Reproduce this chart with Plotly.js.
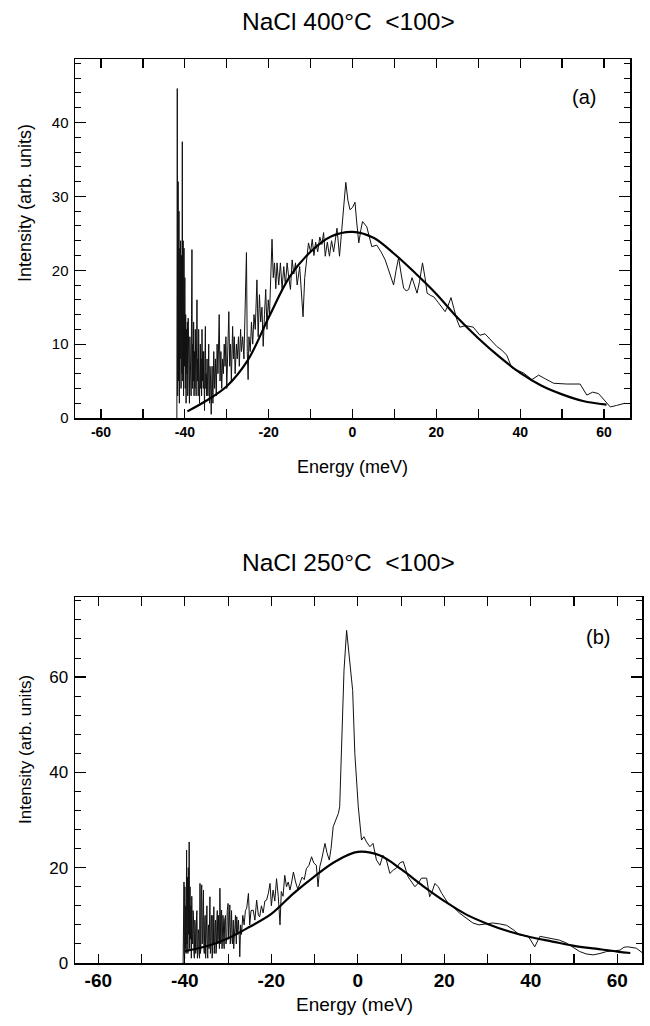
<!DOCTYPE html>
<html>
<head>
<meta charset="utf-8">
<script src="https://cdn.plot.ly/plotly-3.0.1.min.js"></script>
<style>html,body{margin:0;padding:0;background:#fff;}#chart{width:650px;height:1026px;}</style>
</head>
<body>
<div id="chart"></div>
<script>
// ---------- Panel (a): NaCl 400°C <100> : measured spectrum [energy meV, intensity] ----------
const aSpectrum = [
[-41.9,0],[-41.8,44.6],[-41.7,3],[-41.6,32],[-41.5,5],[-41.4,28],[-41.3,2],[-41.2,23],[-41.1,8],[-41.0,24],
[-40.9,4],[-40.8,22],[-40.7,6],[-40.6,37.4],[-40.5,5],[-40.4,24],[-40.3,3],[-40.2,23],[-40.1,7],[-40.0,19],
[-39.9,4],[-39.8,14],[-39.7,2],[-39.6,12],[-39.5,6],[-39.4,13],[-39.3,3],[-39.2,13.5],[-39.1,5],[-39.0,11],
[-38.9,2],[-38.8,11],[-38.7,6],[-38.6,9],[-38.5,3],[-38.4,14],[-38.3,22.8],[-38.2,4],[-38.1,10],[-38.0,5],
[-37.9,13],[-37.8,3],[-37.7,9],[-37.6,4],[-37.5,12],[-37.4,6],[-37.3,3],[-37.2,11],[-37.1,16],[-37.0,5],
[-36.9,8],[-36.8,3],[-36.7,12],[-36.6,6],[-36.5,2],[-36.4,9],[-36.3,10],[-36.2,4],[-36.1,8],[-36.0,3],
[-35.9,12],[-35.8,5],[-35.7,9],[-35.6,4],[-35.5,9],[-35.4,2],[-35.3,1],[-35.2,8],[-35.1,12.4],[-35.0,4],
[-34.9,6],[-34.8,3],[-34.7,8],[-34.6,5],[-34.5,3],[-34.4,9],[-34.3,10],[-34.2,4],[-34.1,2],[-34.0,7],
[-33.9,6],[-33.7,0.5],[-33.5,7],[-33.3,2],[-33.1,9],[-32.9,4],[-32.7,8],[-32.5,3],[-32.3,10],[-32.1,6],
[-31.8,14],[-31.6,5],[-31.4,9],[-31.2,4],[-31.0,8],[-30.8,6],[-30.6,10],[-30.4,7],[-30.2,11],[-30.0,4],
[-29.8,9],[-29.5,14.4],[-29.3,7],[-29.1,10],[-28.9,5],[-28.6,12.4],[-28.4,8],[-28.2,11],[-28.0,6],[-27.7,10],
[-27.5,8],[-27.2,11],[-27.0,7],[-26.7,12],[-26.5,9],[-26.2,11],[-25.9,8],[-25.6,15.8],[-25.3,22.4],[-25.1,9],
[-24.9,5.2],[-24.7,11],[-24.4,9],[-24.1,13],[-23.8,10],[-23.5,14],[-23.2,12],[-22.8,18.7],[-22.5,11],[-22.2,16.7],
[-21.9,13],[-21.6,15],[-21.3,9.7],[-21.0,14],[-20.7,17.4],[-20.4,12],[-20.1,16],[-19.8,14],[-19.5,20],[-19.2,24.2],
[-18.9,19],[-18.6,21],[-18.3,17.5],[-18.0,21],[-17.6,18],[-17.2,21],[-16.8,17.5],[-16.4,20.5],[-16.0,18],[-15.6,21],
[-15.2,19],[-14.8,17.4],[-14.4,21.4],[-14.0,19.5],[-13.6,21],[-13.2,18],[-12.6,20.5],[-12.2,17],[-11.8,13.7],[-11.4,19],
[-11.0,21],[-10.5,23.7],[-10.0,22.5],[-9.6,24.2],[-9.2,22],[-8.8,23.8],[-8.3,22.5],[-7.8,24.5],[-7.3,23.5],[-6.9,25.1],
[-6.5,21.9],[-6.0,23.8],[-5.5,21.9],[-5.0,24],[-4.5,22.5],[-3.7,25.7],[-3.1,21.9],[-2.4,27],[-1.6,31.9],[-1.1,29.5],
[-0.6,28.2],[0.0,28.5],[0.6,29.2],[1.0,26.5],[1.5,23.7],[2.0,25.5],[2.4,26.6],[3.4,25.9],[4.6,23.2],[5.8,23.4],
[6.8,22.5],[7.8,21.4],[8.6,20],[9.2,19],[9.8,18],[10.4,20],[11.0,21.7],[11.6,19.5],[12.2,17.6],[12.8,17.2],
[13.4,17.4],[14.2,19],[14.8,18],[15.4,16.9],[16.0,18.5],[16.7,21],[17.3,19],[17.8,16.9],[18.6,16.6],[19.4,16.4],
[20.5,15.6],[21.3,15],[22.1,14.4],[22.8,15.2],[23.5,16.3],[24.2,14.8],[24.9,13.3],[25.6,12.3],[27.0,12.5],[28.8,12.3],
[30.4,11.2],[31.6,11.4],[33.0,10.5],[34.4,9.7],[35.6,9.2],[36.8,8.5],[38.0,6.8],[39.4,6.4],[40.8,6.1],[42.8,5.2],
[44.4,5.8],[46.0,5.3],[48.0,4.7],[51.1,4.6],[54.3,4.6],[55.9,3.1],[57.3,3.5],[58.7,3.3],[60.7,2.0],[61.5,1.5],
[63.0,1.7],[65.0,2.0]
];
const aFitE = [-39.4,-35,-30,-25,-20,-15,-10,-5,0,5,10,15,20,25,30,35,40,45,50,55,60.6];
const aFitI = [0.9,2.3,4.3,7.8,13.6,19.1,22.5,24.6,25.2,24.4,22.2,19.6,16.8,13.6,10.8,8.3,6.1,4.4,3.2,2.3,1.8];

// ---------- Panel (b): NaCl 250°C <100> : measured spectrum [energy meV, intensity] ----------
const bSpectrum = [
[-40.4,0],[-40.3,16.7],[-40.25,1],[-40.2,17],[-40.15,2],[-40.1,14],[-40.05,1],[-40.0,16],[-39.9,3],[-39.8,12],
[-39.7,2],[-39.6,23.7],[-39.5,4],[-39.4,18],[-39.3,2],[-39.2,20],[-39.1,6],[-39.0,25.4],[-38.9,3],[-38.8,16],
[-38.7,5],[-38.6,12],[-38.5,1],[-38.4,14],[-38.3,6],[-38.2,4],[-38.1,11],[-38.0,10],[-37.9,2],[-37.8,1],
[-37.7,9],[-37.6,8],[-37.5,2],[-37.4,3],[-37.3,10],[-37.2,11],[-37.1,1],[-37.0,2],[-36.9,7],[-36.8,6],
[-36.7,2],[-36.6,1],[-36.5,16.7],[-36.4,2],[-36.3,3],[-36.2,14],[-36.1,16.4],[-36.0,4],[-35.9,5],[-35.8,12],
[-35.7,15.3],[-35.6,3],[-35.5,2],[-35.4,9],[-35.3,10],[-35.2,1],[-35.1,4],[-35.0,11],[-34.9,12],[-34.8,2],
[-34.7,1],[-34.6,7],[-34.5,8],[-34.4,3],[-34.3,12],[-34.2,13.9],[-34.1,2],[-34.0,3],[-33.9,9],[-33.8,10],
[-33.7,1],[-33.6,2],[-33.5,10],[-33.4,4],[-33.3,11.8],[-33.2,2],[-33.1,4],[-33.0,8],[-32.9,9],[-32.8,2],
[-32.7,3],[-32.6,9],[-32.5,11],[-32.4,4],[-32.3,5],[-32.2,10],[-32.1,8],[-32.0,3],[-31.9,15.7],[-31.8,5],
[-31.7,4],[-31.6,10],[-31.5,11.1],[-31.4,3],[-31.3,6],[-31.2,10],[-31.1,9],[-31.0,4],[-30.9,3],[-30.8,9],
[-30.6,10],[-30.5,4],[-30.3,5],[-30.2,11],[-30.0,12.5],[-29.9,5],[-29.8,7],[-29.6,12.2],[-29.5,4],[-29.4,6],
[-29.2,11],[-29.1,5],[-29.0,4],[-28.8,9],[-28.7,3],[-28.6,5],[-28.4,8],[-28.3,10],[-28.1,4],[-28.0,9.7],
[-27.8,6],[-27.6,9],[-27.4,5],[-27.3,1.3],[-27.1,8],[-26.9,6],[-26.6,10],[-26.3,8],[-26.0,11],[-25.7,11.5],
[-25.3,14.6],[-25.0,8],[-24.7,11],[-24.2,11.1],[-23.8,9],[-23.4,13.2],[-23.0,10],[-22.7,9.7],[-22.3,12],[-21.9,10.5],
[-21.5,13],[-21.1,13.2],[-20.7,14.6],[-20.3,16.7],[-20.0,12],[-19.6,15.3],[-19.2,13],[-18.8,17.7],[-18.4,14],[-18.0,8.0],
[-17.7,15],[-17.3,14],[-16.9,18.4],[-16.5,16],[-16.1,17],[-15.7,15.3],[-15.3,17],[-14.9,19.1],[-14.4,17],[-13.9,15.5],
[-13.4,16.7],[-12.9,18],[-12.4,17.5],[-11.9,19.8],[-11.3,20.5],[-10.7,22.3],[-10.2,21],[-9.6,20.5],[-9.2,16.0],[-8.8,20.2],
[-8.4,21.6],[-7.6,25.1],[-7.1,23],[-6.6,21.6],[-6.2,24],[-5.7,28.6],[-5.1,30],[-4.5,31.4],[-4.2,32.8],[-3.8,44],
[-3.5,55],[-3.2,61.4],[-2.6,69.8],[-2.0,64.2],[-1.2,57.2],[-0.7,44],[0.1,32.8],[0.85,25.8],[1.4,26.5],[2.0,25.4],
[2.8,24.4],[3.5,25.1],[4.3,21.6],[5.1,20.5],[5.8,22.6],[6.6,21.6],[7.4,18.8],[8.2,19.5],[8.9,19.9],[9.7,21],
[10.5,21.3],[11.6,18.1],[12.4,17],[13.2,16],[14.0,16.8],[14.7,17.8],[15.9,17.8],[16.6,13.9],[17.2,15],[17.8,16.7],
[18.6,16],[19.4,14.6],[20.9,12.5],[22.0,11.8],[23.6,10.4],[25.0,9.5],[26.6,8.4],[28.0,8.0],[29.7,8.2],[31.2,8.4],
[32.8,8.2],[34.4,7.9],[35.9,7.0],[37.4,5.9],[39.4,5.6],[40.9,3.4],[42.1,5.6],[43.6,5.3],[45.1,5.0],[46.6,4.8],
[48.2,4.2],[49.8,3.2],[51.3,2.4],[52.8,1.9],[54.4,1.7],[56.0,2.0],[57.5,2.4],[59.0,2.5],[60.6,2.7],[61.5,3.3],
[62.4,3.4],[64.4,3.1],[66.0,2.0]
];
const bFitE = [-40,-35,-30,-25,-20,-15,-10,-5,0,5,10,15,20,25,30,35,40,45,50,55,60,63];
const bFitI = [2.5,3.5,5.2,7.6,10.3,14.5,18.2,21.4,23.3,22.6,19.7,16.2,13.0,10.2,8.2,6.6,5.4,4.5,3.6,3.0,2.4,2.1];

// ---------- Text and tick labels ----------
const titleA = "NaCl 400°C  &lt;100&gt;";
const titleB = "NaCl 250°C  &lt;100&gt;";
const panelLabelA = "(a)";
const panelLabelB = "(b)";
const xTitle = "Energy (meV)";
const yTitle = "Intensity (arb. units)";
const xTickVals = [-60,-40,-20,0,20,40,60];
const xTickText = ["-60","-40","-20","0","20","40","60"];

const FONT = "Liberation Sans, Arial, Helvetica, sans-serif";
const noisyLine = {color:"#111", width:1};
const fitLine = {color:"#000", width:2.2};

const traces = [
  {x:aSpectrum.map(p=>p[0]), y:aSpectrum.map(p=>p[1]), type:"scatter", mode:"lines", line:noisyLine, xaxis:"x", yaxis:"y"},
  {x:aFitE, y:aFitI, type:"scatter", mode:"lines", line:Object.assign({shape:"spline"}, fitLine), xaxis:"x", yaxis:"y"},
  {x:bSpectrum.map(p=>p[0]), y:bSpectrum.map(p=>p[1]), type:"scatter", mode:"lines", line:noisyLine, xaxis:"x2", yaxis:"y2"},
  {x:bFitE, y:bFitI, type:"scatter", mode:"lines", line:Object.assign({shape:"spline"}, fitLine), xaxis:"x2", yaxis:"y2"}
];

function xAxis(domain, range, anchor, fsize, standoff){
  return {domain:domain, range:range, anchor:anchor, tickmode:"array", tickvals:xTickVals, ticktext:xTickText,
    ticks:"inside", ticklen:9, tickwidth:1.2, tickcolor:"#000", mirror:"allticks", showline:true, linewidth:1.5,
    linecolor:"#000", showgrid:false, zeroline:false, ticklabelstandoff:standoff,
    tickfont:{family:FONT, size:fsize, color:"#000", weight:"bold"},
    minor:{dtick:10, tick0:0, ticks:"inside", ticklen:9, tickwidth:1.2, tickcolor:"#000", showgrid:false}};
}
function yAxis(domain, range, anchor, dtick, mdtick, fsize){
  return {domain:domain, range:range, anchor:anchor, dtick:dtick, tick0:0,
    ticks:"inside", ticklen:11, tickwidth:1.2, tickcolor:"#000", mirror:"allticks", showline:true, linewidth:1.5,
    linecolor:"#000", showgrid:false, zeroline:false, ticklabelstandoff:2,
    tickfont:{family:FONT, size:fsize, color:"#000"},
    minor:{dtick:mdtick, tick0:0, ticks:"inside", ticklen:6, tickwidth:1, tickcolor:"#000", showgrid:false}};
}
function label(text, px, py, size, angle){
  const a = {text:text, xref:"paper", yref:"paper", x:px/W, y:1-py/H, xanchor:"center", yanchor:"middle",
    showarrow:false, font:{family:FONT, size:size, color:"#000"}};
  if (angle) a.textangle = angle;
  return a;
}

const W = 650, H = 1026;
const layout = {
  width:W, height:H, margin:{l:0, r:0, t:0, b:0}, showlegend:false,
  paper_bgcolor:"#fff", plot_bgcolor:"#fff",
  xaxis: xAxis([75/W, 630/W], [-66.2, 66.2], "y", 14, 1),
  yaxis: yAxis([1-418/H, 1-59/H], [0, 48.6], "x", 10, 2, 15),
  xaxis2: xAxis([75/W, 642/W], [-65.4, 65.7], "y2", 19, 0),
  yaxis2: yAxis([1-963/H, 1-597/H], [0, 76.8], "x2", 20, 4, 17),
  annotations: [
    label(titleA, 348, 22, 24.5),
    label(titleB, 348, 562, 24.5),
    label(panelLabelA, 584, 97, 20),
    label(panelLabelB, 598, 637, 20),
    label(xTitle, 352, 467, 18),
    label(xTitle, 355, 1004, 19),
    label(yTitle, 25, 203, 18, -90),
    label(yTitle, 25, 750, 17, -90)
  ]
};

Plotly.newPlot("chart", traces, layout, {staticPlot:true, displayModeBar:false});
</script>
</body>
</html>
